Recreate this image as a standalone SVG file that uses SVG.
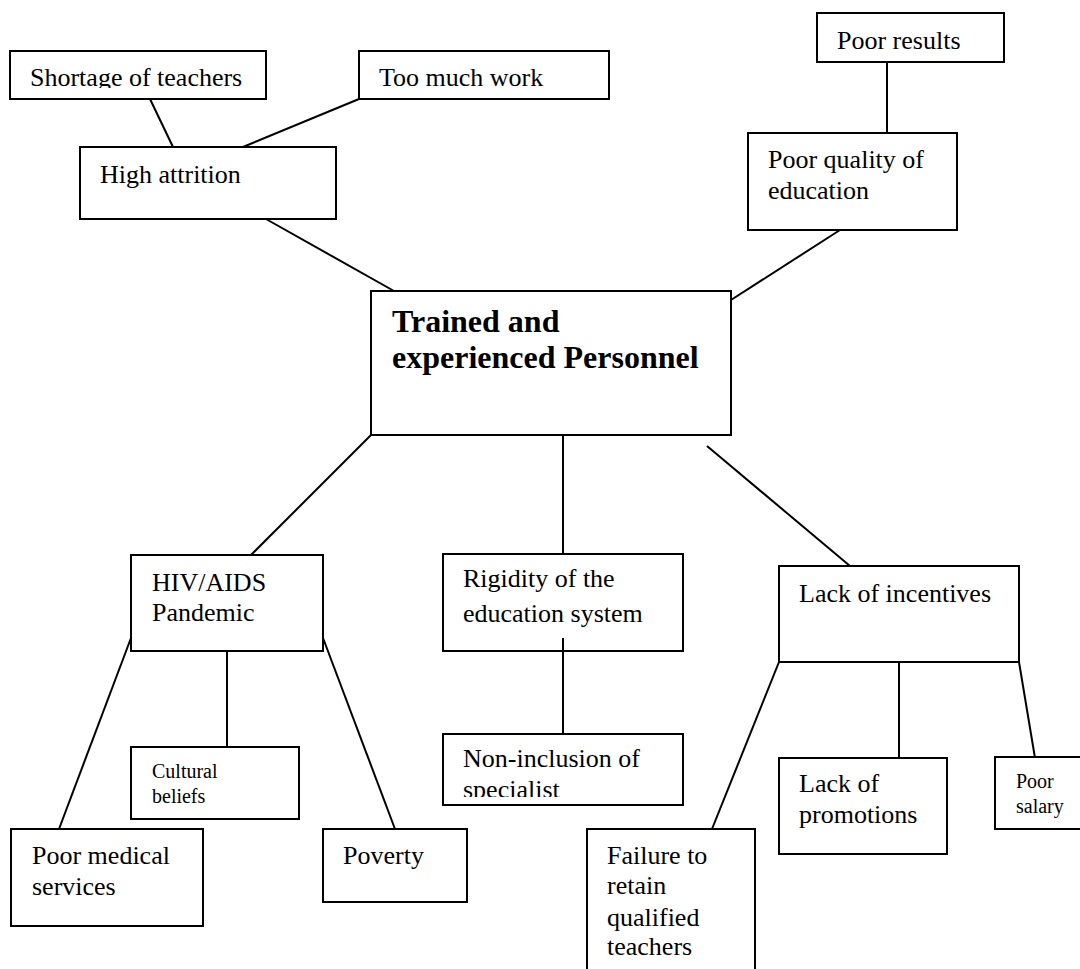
<svg xmlns="http://www.w3.org/2000/svg" width="1080" height="969" viewBox="0 0 1080 969">
<style>
.box{fill:#fff;stroke:#000;stroke-width:2}
text{font-family:'Liberation Serif',Tinos,'Times New Roman',Times,'DejaVu Serif',serif;fill:#000}
.t{font-size:26px}
.s{font-size:20px}
.b{font-size:32px;font-weight:bold}
#connectors line{stroke:#000;stroke-width:2}
</style>
<defs>
<clipPath id="clipShort"><rect x="10" y="51" width="256" height="37"/></clipPath>
<clipPath id="clipNon"><rect x="443" y="734" width="240" height="63"/></clipPath>
</defs>
<rect width="1080" height="969" fill="#fff"/>
<g id="connectors">
<line x1="150" y1="99" x2="173" y2="147"/>
<line x1="359" y1="99" x2="243" y2="147"/>
<line x1="266" y1="219" x2="394" y2="291"/>
<line x1="887" y1="62" x2="887" y2="133"/>
<line x1="840" y1="230" x2="731" y2="300"/>
<line x1="371" y1="435" x2="251" y2="555"/>
<line x1="563" y1="435" x2="563" y2="554"/>
<line x1="707" y1="446" x2="850" y2="566"/>
<line x1="131" y1="638" x2="59" y2="829"/>
<line x1="227" y1="651" x2="227" y2="747"/>
<line x1="323" y1="638" x2="395" y2="829"/>
<line x1="779" y1="662" x2="712" y2="829"/>
<line x1="899" y1="662" x2="899" y2="758"/>
<line x1="1019" y1="662" x2="1035" y2="758"/>
</g>
<g id="shortage"><rect class="box" x="10" y="51" width="256" height="48"/><text class="t" x="30" y="86" font-family="Liberation Serif, serif" clip-path="url(#clipShort)">Shortage of teachers</text></g>
<g id="toomuch"><rect class="box" x="359" y="51" width="250" height="48"/><text class="t" x="379" y="86">Too much work</text></g>
<g id="attrition"><rect class="box" x="80" y="147" width="256" height="72"/><text class="t" x="100" y="183">High attrition</text></g>
<g id="poorresults"><rect class="box" x="817" y="13" width="187" height="49"/><text class="t" x="837" y="49">Poor results</text></g>
<g id="quality"><rect class="box" x="748" y="133" width="209" height="97"/><text class="t" x="768" y="168">Poor quality of</text><text class="t" x="768" y="199">education</text></g>
<g id="center"><rect class="box" x="371" y="291" width="360" height="144"/><text class="b" x="392" y="332">Trained and</text><text class="b" x="392" y="368">experienced Personnel</text></g>
<g id="hiv"><rect class="box" x="131" y="555" width="192" height="96"/><text class="t" x="152" y="591">HIV/AIDS</text><text class="t" x="152" y="621">Pandemic</text></g>
<g id="rigidity"><rect class="box" x="443" y="554" width="240" height="97"/><text class="t" x="463" y="587">Rigidity of the</text><text class="t" x="463" y="622">education system</text></g>
<g id="connector-inner"><line x1="563" y1="638" x2="563" y2="734" stroke="#000" stroke-width="2"/></g>
<g id="incentives"><rect class="box" x="779" y="566" width="240" height="96"/><text class="t" x="799" y="602">Lack of incentives</text></g>
<g id="cultural"><rect class="box" x="131" y="747" width="168" height="72"/><text class="s" x="152" y="778">Cultural</text><text class="s" x="152" y="803">beliefs</text></g>
<g id="noninclusion"><rect class="box" x="443" y="734" width="240" height="71"/><g clip-path="url(#clipNon)"><text class="t" x="463" y="767">Non-inclusion of</text><text class="t" x="463" y="798">specialist</text></g></g>
<g id="medical"><rect class="box" x="11" y="829" width="192" height="97"/><text class="t" x="32" y="864">Poor medical</text><text class="t" x="32" y="895">services</text></g>
<g id="poverty"><rect class="box" x="323" y="829" width="144" height="73"/><text class="t" x="343" y="864">Poverty</text></g>
<g id="promotions"><rect class="box" x="779" y="758" width="168" height="96"/><text class="t" x="799" y="792">Lack of</text><text class="t" x="799" y="823">promotions</text></g>
<g id="salary"><rect class="box" x="995" y="757" width="100" height="72"/><text class="s" x="1016" y="788">Poor</text><text class="s" x="1016" y="813">salary</text></g>
<g id="failure"><rect class="box" x="587" y="829" width="168" height="160"/><text class="t" x="607" y="864">Failure to</text><text class="t" x="607" y="894">retain</text><text class="t" x="607" y="926">qualified</text><text class="t" x="607" y="955">teachers</text></g>
</svg>
